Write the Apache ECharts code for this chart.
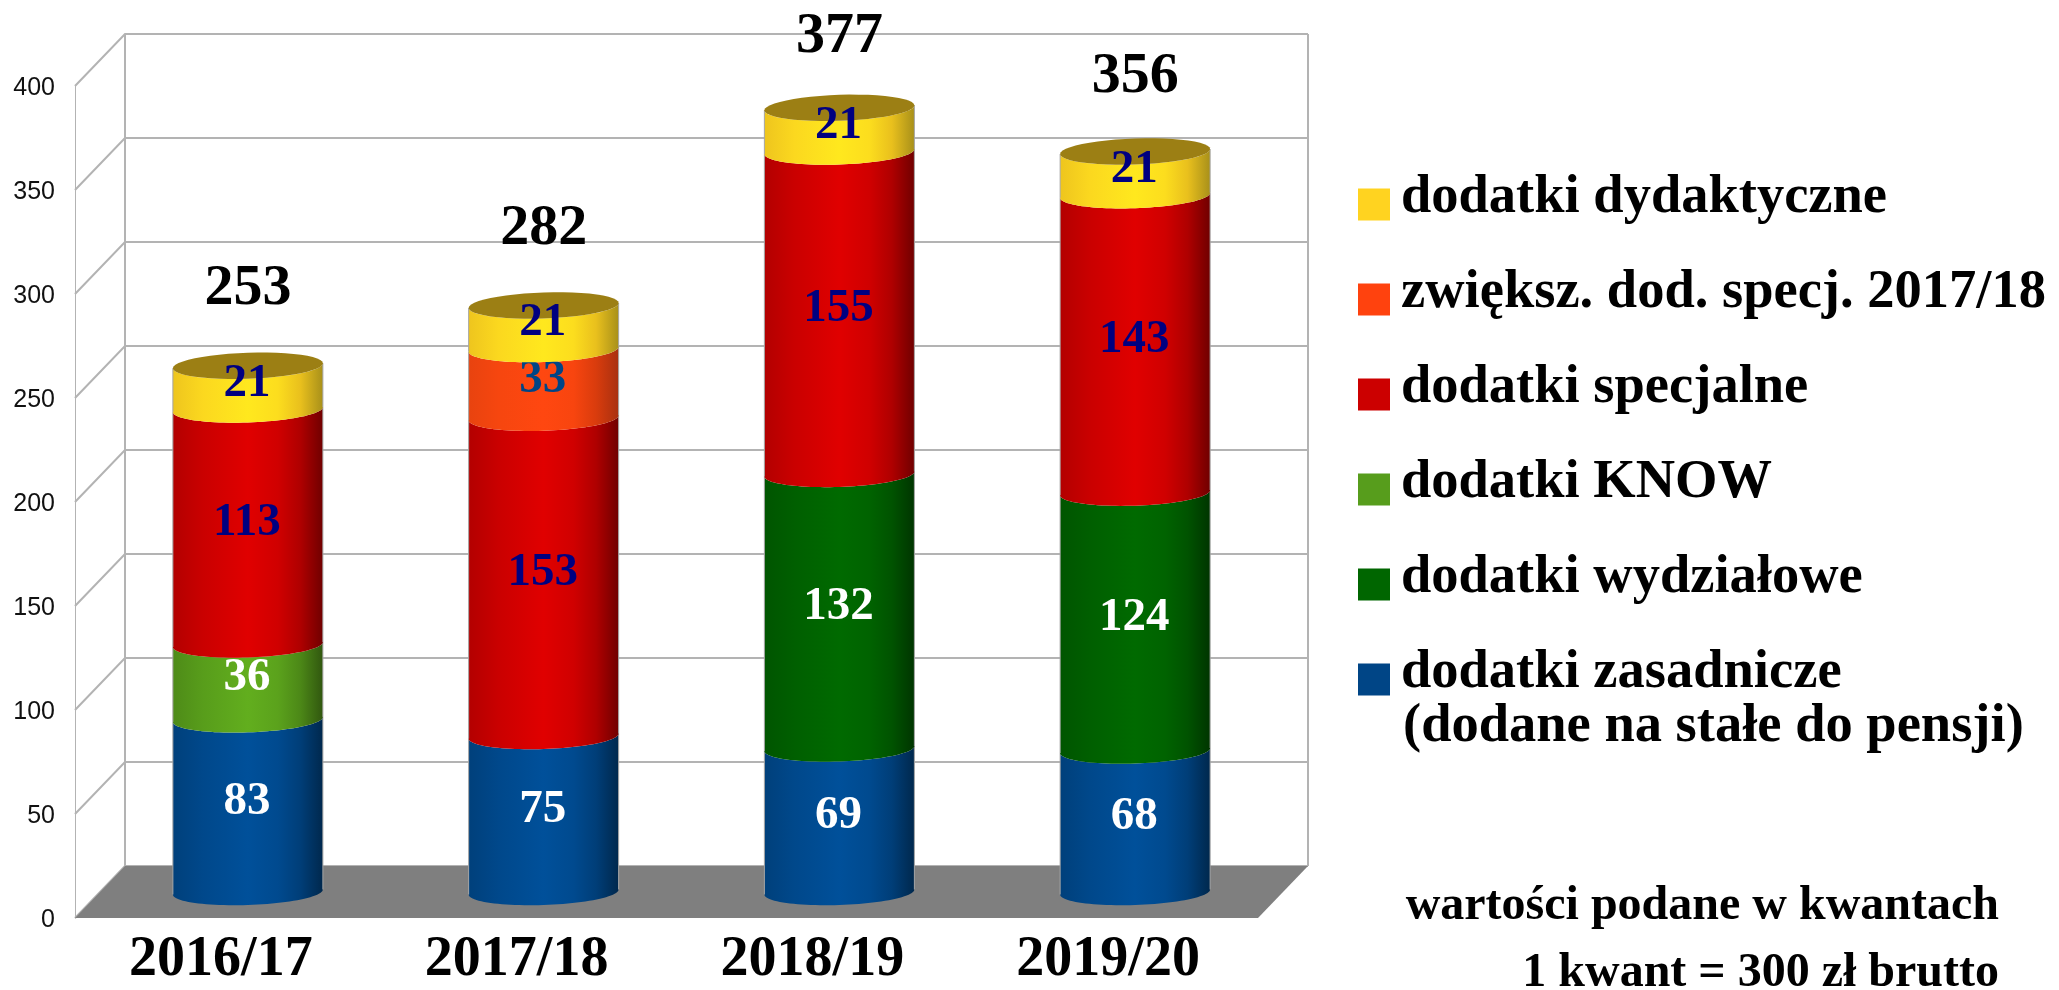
<!DOCTYPE html>
<html>
<head>
<meta charset="utf-8">
<title>dodatki</title>
<script src="https://cdn.jsdelivr.net/npm/echarts@6/dist/echarts.min.js"></script>
<style>
html, body { margin: 0; padding: 0; background: #fff; }
#chart { width: 2059px; height: 990px; }
</style>
</head>
<body>
<div id="chart"></div>
<script>
var categories = ['2016/17', '2017/18', '2018/19', '2019/20'];
var yTicks = [0, 50, 100, 150, 200, 250, 300, 350, 400];

var zasadnicze = [83, 75, 69, 68];
var wydzialowe = [0, 0, 132, 124];
var know = [36, 0, 0, 0];
var specjalne = [113, 153, 155, 143];
var zwieksz = [0, 33, 0, 0];
var dydaktyczne = [21, 21, 21, 21];
var totals = [253, 282, 377, 356];

// bottom to top, same order as the stack
var layers = [
    {name: 'dodatki zasadnicze', values: zasadnicze, color: '#004586', peak: '#00509a', label: '#ffffff'},
    {name: 'dodatki wydziałowe', values: wydzialowe, color: '#006600', peak: '#006a00', label: '#ffffff'},
    {name: 'dodatki KNOW', values: know, color: '#579d1c', peak: '#62ae1e', label: '#ffffff'},
    {name: 'dodatki specjalne', values: specjalne, color: '#cc0000', peak: '#e00000', label: '#000080'},
    {
        name: 'zwiększ. dod. specj. 2017/18', values: zwieksz, color: '#ff420e', peak: '#ff4710', label: '#004586',
        side: ['#e8430f', '#f6460f', '#ff4710', '#f8450f', '#d93c0d', '#a83010']
    },
    {
        name: 'dodatki dydaktyczne', values: dydaktyczne, color: '#ffd320', peak: '#ffe81e', label: '#000080',
        side: ['#eec51e', '#fbd81f', '#ffe81e', '#fcdd1e', '#e9c01d', '#a8901a']
    }
];

var serif = '"Liberation Serif", serif';
var DEPTH_X = 50;
var DEPTH_Y = 52;
var RX = 75;
var RY = 13;
var TILT = 2.5;
var totalLift = [77, 76, 71, 75];
var stopOffsets = [0, 0.2, 0.5, 0.7, 0.85, 1];
var stopShades = [0.8, 0.9, 1, 0.93, 0.78, 0.5];

function shade(hex, k) {
    var n = parseInt(hex.slice(1), 16);
    var r = Math.round((n >> 16 & 255) * k);
    var g = Math.round((n >> 8 & 255) * k);
    var b = Math.round((n & 255) * k);
    return 'rgb(' + r + ',' + g + ',' + b + ')';
}

function bodyFill(layer) {
    return {
        type: 'linear', x: 0, y: 0, x2: 1, y2: 0,
        colorStops: stopOffsets.map(function (offset, i) {
            return {offset: offset, color: layer.side ? layer.side[i] : shade(layer.peak, stopShades[i])};
        })
    };
}

function arc(cx, cy, from, to) {
    var pts = [];
    for (var i = 0; i <= 48; i++) {
        var t = from + (to - from) * i / 48;
        pts.push([cx + RX * Math.cos(t), cy + RY * Math.sin(t) - TILT * Math.cos(t)]);
    }
    return pts;
}

function midDepth(api, idx, v) {
    var p = api.coord([idx, v]);
    return [p[0] + DEPTH_X / 2, p[1] - DEPTH_Y / 2];
}

function renderWalls(params, api) {
    var box = params.coordSys;
    var y = api.coord([0, api.value(0)])[1];
    var left = box.x, right = box.x + box.width;
    return {
        type: 'polyline',
        shape: {points: [[left, y], [left + DEPTH_X, y - DEPTH_Y], [right + DEPTH_X, y - DEPTH_Y]]},
        style: {stroke: '#b3b3b3', lineWidth: 2, fill: null}
    };
}

function renderFloor(params, api) {
    var box = params.coordSys;
    var y = box.y + box.height;
    var left = box.x, right = box.x + box.width;
    var top = box.y;
    return {
        type: 'group',
        children: [
            {
                type: 'polygon',
                shape: {points: [[left, y], [right, y], [right + DEPTH_X, y - DEPTH_Y], [left + DEPTH_X, y - DEPTH_Y]]},
                style: {fill: '#7f7f7f'}
            },
            {
                type: 'line',
                shape: {x1: left + DEPTH_X, y1: top - DEPTH_Y, x2: left + DEPTH_X, y2: y - DEPTH_Y},
                style: {stroke: '#b3b3b3', lineWidth: 2}
            },
            {
                type: 'line',
                shape: {x1: right + DEPTH_X, y1: top - DEPTH_Y, x2: right + DEPTH_X, y2: y - DEPTH_Y},
                style: {stroke: '#b3b3b3', lineWidth: 2}
            }
        ]
    };
}

function renderLayer(layer) {
    return function (params, api) {
        var idx = api.value(0), start = api.value(1), end = api.value(2);
        if (end <= start) return;
        var a = midDepth(api, idx, start);
        var b = midDepth(api, idx, end);
        var mid = midDepth(api, idx, (start + end) / 2);
        var children = [{
            type: 'polygon',
            shape: {points: arc(b[0], b[1], Math.PI, 0).concat(arc(a[0], a[1], 0, Math.PI))},
            style: {fill: bodyFill(layer)}
        }, {
            // thin grey edge on both sides of the cylinder
            type: 'line',
            shape: {x1: a[0] - RX, y1: b[1] + TILT, x2: a[0] - RX, y2: a[1] + TILT},
            style: {stroke: '#a6a6a6', lineWidth: 1}
        }, {
            type: 'line',
            shape: {x1: a[0] + RX, y1: b[1] - TILT, x2: a[0] + RX, y2: a[1] - TILT},
            style: {stroke: '#a6a6a6', lineWidth: 1}
        }];
        if (end === totals[idx]) {
            children.push({
                type: 'polygon',
                shape: {points: arc(b[0], b[1], 0, Math.PI * 2)},
                style: {fill: '#9c7f14'}
            });
        }
        children.push({
            type: 'text',
            x: mid[0] - 1,
            y: mid[1] - 4,
            style: {
                text: String(end - start),
                fill: layer.label,
                font: 'bold 47px ' + serif,
                align: 'center',
                verticalAlign: 'middle'
            }
        });
        return {type: 'group', children: children};
    };
}

function renderTotal(params, api) {
    var idx = api.value(0);
    var p = midDepth(api, idx, api.value(1));
    return {
        type: 'text',
        x: p[0],
        y: p[1] - totalLift[idx],
        style: {
            text: String(api.value(1)),
            fill: '#000',
            font: 'bold 58px ' + serif,
            align: 'center',
            verticalAlign: 'middle'
        }
    };
}

var base = [0, 0, 0, 0];
var layerSeries = layers.map(function (layer) {
    var rows = layer.values.map(function (v, i) {
        var row = [i, base[i], base[i] + v];
        base[i] += v;
        return row;
    });
    return {
        name: layer.name,
        type: 'custom',
        z: 5,
        silent: true,
        itemStyle: {color: layer.color},
        renderItem: renderLayer(layer),
        encode: {x: 0, y: [1, 2]},
        data: rows
    };
});

var chart = echarts.init(document.getElementById('chart'));
chart.setOption({
    animation: false,
    backgroundColor: '#fff',
    grid: {left: 75, right: 801, top: 86, bottom: 72},
    xAxis: {
        type: 'category',
        data: categories,
        axisLine: {show: false},
        axisTick: {show: false},
        axisLabel: {margin: 15, padding: [0, 4, 0, 0], fontFamily: serif, fontWeight: 'bold', fontSize: 56, color: '#000'}
    },
    yAxis: {
        type: 'value',
        min: 0,
        max: 400,
        interval: 50,
        splitLine: {show: false},
        axisTick: {show: false},
        axisLine: {show: true, lineStyle: {color: '#b3b3b3', width: 1}},
        axisLabel: {
            margin: 20,
            formatter: '{t|{value}}',
            rich: {t: {padding: [4, 0, 0, 0], fontFamily: '"Liberation Sans", sans-serif', fontSize: 25, color: '#111'}}
        }
    },
    legend: {
        left: 1358,
        top: 170,
        orient: 'vertical',
        selectedMode: false,
        icon: 'rect',
        itemWidth: 32,
        itemHeight: 32,
        itemGap: 40,
        padding: 0,
        data: layers.map(function (l) { return l.name; }).reverse(),
        formatter: function (name) {
            return '{t|' + name + '}';
        },
        textStyle: {
            rich: {
                t: {
                    fontFamily: serif,
                    fontWeight: 'bold',
                    fontSize: 54.5,
                    color: '#000',
                    padding: [0, 0, 14, 6]
                }
            }
        }
    },
    graphic: [
        {type: 'text', left: 1403, top: 699, style: {text: '(dodane na stałe do pensji)', font: 'bold 54.5px ' + serif, fill: '#000'}},
        {type: 'text', right: 60, top: 883, style: {text: 'wartości podane w kwantach', font: 'bold 48px ' + serif, fill: '#000'}},
        {type: 'text', right: 60, top: 950, style: {text: '1 kwant = 300 zł brutto', font: 'bold 48px ' + serif, fill: '#000'}}
    ],
    series: [
        {
            type: 'custom',
            z: 1,
            silent: true,
            renderItem: renderWalls,
            encode: {y: 0},
            data: yTicks.map(function (v) { return [v]; })
        },
        {
            type: 'custom',
            z: 2,
            silent: true,
            renderItem: renderFloor,
            data: [[0]]
        }
    ].concat(layerSeries).concat([{
        type: 'custom',
        z: 6,
        silent: true,
        renderItem: renderTotal,
        encode: {x: 0, y: 1},
        data: totals.map(function (v, i) { return [i, v]; })
    }])
});

window.addEventListener('resize', function () {
    chart.resize();
});
</script>
</body>
</html>
